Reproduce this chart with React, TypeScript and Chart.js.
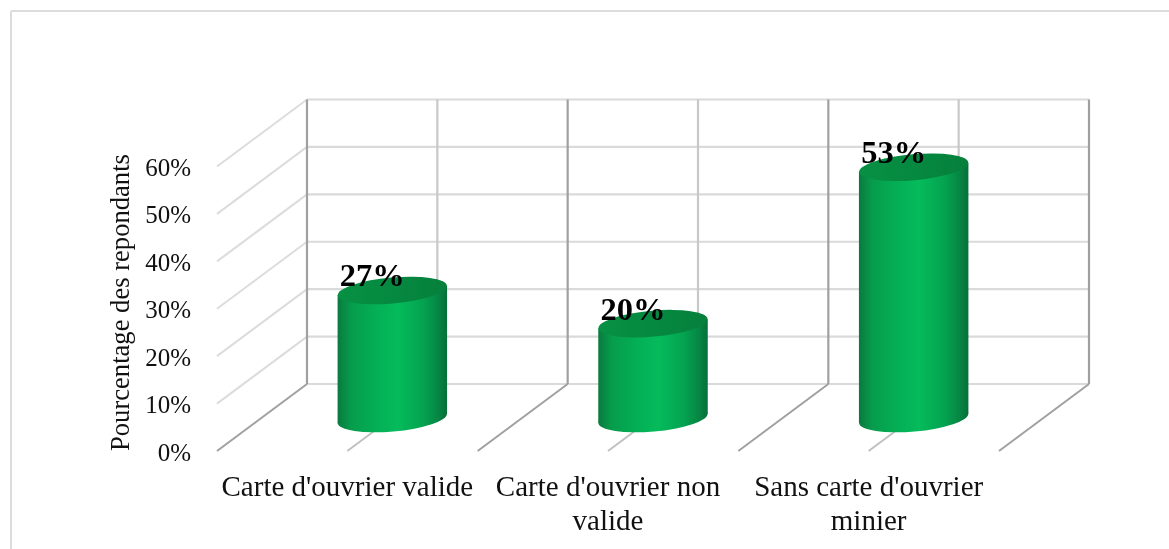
import React, { useEffect, useRef } from "react";
import { Chart, registerables } from "chart.js";

Chart.register(...registerables);

const categories = [["Carte d'ouvrier valide"], ["Carte d'ouvrier non", "valide"], ["Sans carte d'ouvrier", "minier"]];
const percentages = [27, 20, 53];
const yAxisTitle = "Pourcentage des repondants";
const yMax = 60;
const yStep = 10;

const DEPTH_X = 90;
const DEPTH_Y = -67;
const SERIF = "'Liberation Serif', 'Times New Roman', serif";

const line = (ctx: any, x1: number, y1: number, x2: number, y2: number, color: string, w: number) => {
  ctx.strokeStyle = color;
  ctx.lineWidth = w;
  ctx.beginPath();
  ctx.moveTo(x1, y1);
  ctx.lineTo(x2, y2);
  ctx.stroke();
};

const framePlugin = {
  id: "frame3d",
  beforeDatasetsDraw(chart: any) {
    const { ctx, scales } = chart;
    const x = scales.x;
    const y = scales.y;
    const n = categories.length;
    const step = (x.right - x.left) / n;
    const bottom = y.getPixelForValue(0);
    const top = y.getPixelForValue(yMax);
    ctx.save();
    ctx.lineCap = "butt";
    // page frame
    line(ctx, 11, 11, chart.width, 11, "#dcdcdc", 2);
    line(ctx, 11, 11, 11, chart.height, "#dcdcdc", 2);
    // back wall and side wall gridlines
    for (let v = 0; v <= yMax; v += yStep) {
      const py = y.getPixelForValue(v);
      line(ctx, x.left + DEPTH_X, py + DEPTH_Y, x.right + DEPTH_X, py + DEPTH_Y, "#dadada", 2.2);
      if (v > 0) line(ctx, x.left, py, x.left + DEPTH_X, py + DEPTH_Y, "#dcdcdc", 2);
    }
    // minor verticals and floor lines at category centres
    for (let i = 0; i < n; i++) {
      const cx = x.getPixelForValue(i);
      line(ctx, cx + DEPTH_X, bottom + DEPTH_Y, cx + DEPTH_X, top + DEPTH_Y, "#c8c8c8", 2.2);
      line(ctx, cx, bottom, cx + DEPTH_X, bottom + DEPTH_Y, "#c0c0c0", 2);
    }
    // major verticals and floor lines at category edges
    for (let i = 0; i <= n; i++) {
      const ex = x.left + i * step;
      line(ctx, ex + DEPTH_X, bottom + DEPTH_Y, ex + DEPTH_X, top + DEPTH_Y, "#a0a0a0", 2.2);
      line(ctx, ex, bottom, ex + DEPTH_X, bottom + DEPTH_Y, "#a0a0a0", 2);
    }
    ctx.restore();
  },
  afterDatasetsDraw(chart: any) {
    const { ctx } = chart;
    const meta = chart.getDatasetMeta(0);
    const theta = (-5 * Math.PI) / 180;
    const tilt = 4.5;
    meta.data.forEach((bar: any, i: number) => {
      const cx = bar.x + DEPTH_X / 2;
      const a = bar.width / 2;
      const b = 13;
      const baseY = bar.base + DEPTH_Y / 2 + 1;
      const topY = bar.y + DEPTH_Y / 2 + 1;
      const g = ctx.createLinearGradient(cx - a, 0, cx + a, 0);
      g.addColorStop(0, "#0a7a3e");
      g.addColorStop(0.12, "#069c4c");
      g.addColorStop(0.35, "#04af55");
      g.addColorStop(0.55, "#05bb5b");
      g.addColorStop(0.78, "#04a350");
      g.addColorStop(0.92, "#068644");
      g.addColorStop(1, "#076f39");
      ctx.save();
      ctx.fillStyle = g;
      ctx.beginPath();
      ctx.ellipse(cx, baseY, a, b, theta, 0, Math.PI * 2);
      ctx.fill();
      ctx.beginPath();
      ctx.moveTo(cx - a, topY + tilt);
      ctx.lineTo(cx + a, topY - tilt);
      ctx.lineTo(cx + a, baseY - tilt);
      ctx.lineTo(cx - a, baseY + tilt);
      ctx.closePath();
      ctx.fill();
      const tg = ctx.createLinearGradient(cx - a, 0, cx + a, 0);
      tg.addColorStop(0, "#079144");
      tg.addColorStop(0.6, "#05873f");
      tg.addColorStop(1, "#06803c");
      ctx.fillStyle = tg;
      ctx.beginPath();
      ctx.ellipse(cx, topY, a, b, theta, 0, Math.PI * 2);
      ctx.fill();
      ctx.fillStyle = "#000";
      ctx.font = `bold 32.5px ${SERIF}`;
      ctx.textAlign = "center";
      ctx.textBaseline = "alphabetic";
      ctx.fillText(`${percentages[i]}%`, cx - 20, topY - 4);
      ctx.restore();
    });
  },
};

export default function App() {
  const ref = useRef<HTMLCanvasElement>(null);
  useEffect(() => {
    const chart = new Chart(ref.current as HTMLCanvasElement, {
      type: "bar",
      data: {
        labels: categories as any,
        datasets: [
          {
            label: yAxisTitle,
            data: percentages,
            backgroundColor: "rgba(0,0,0,0)",
            barPercentage: 0.42,
            categoryPercentage: 1,
          },
        ],
      },
      options: {
        responsive: false,
        animation: false,
        layout: { padding: { left: 0, right: 170, top: 166.5, bottom: 0 } },
        plugins: { legend: { display: false }, title: { display: false }, tooltip: { enabled: false } },
        scales: {
          x: {
            grid: { display: false },
            border: { display: false },
            afterFit: (s: any) => { s.height = 98; },
            ticks: {
              autoSkip: false,
              maxRotation: 0,
              minRotation: 0,
              padding: 12,
              color: "#111",
              font: { family: SERIF, size: 29, lineHeight: 1.17 },
            },
          },
          y: {
            min: 0,
            max: yMax,
            grid: { display: false, drawTicks: false },
            border: { display: false },
            afterFit: (s: any) => { s.width = 217; },
            title: {
              display: true,
              text: yAxisTitle,
              align: "start",
              color: "#111",
              font: { family: SERIF, size: 26.6 },
              padding: { top: 106, bottom: 0 },
            },
            ticks: {
              stepSize: yStep,
              padding: 26,
              labelOffset: 3,
              color: "#111",
              font: { family: SERIF, size: 25 },
              callback: (v: any) => `${v}%`,
            },
          },
        },
      },
      plugins: [framePlugin],
    } as any);
    return () => chart.destroy();
  }, []);
  return (
    <div style={{ position: "fixed", left: 0, top: 0, width: 1169, height: 549, background: "#fff" }}>
      <canvas ref={ref} width={1169} height={549} style={{ display: "block" }} />
    </div>
  );
}
